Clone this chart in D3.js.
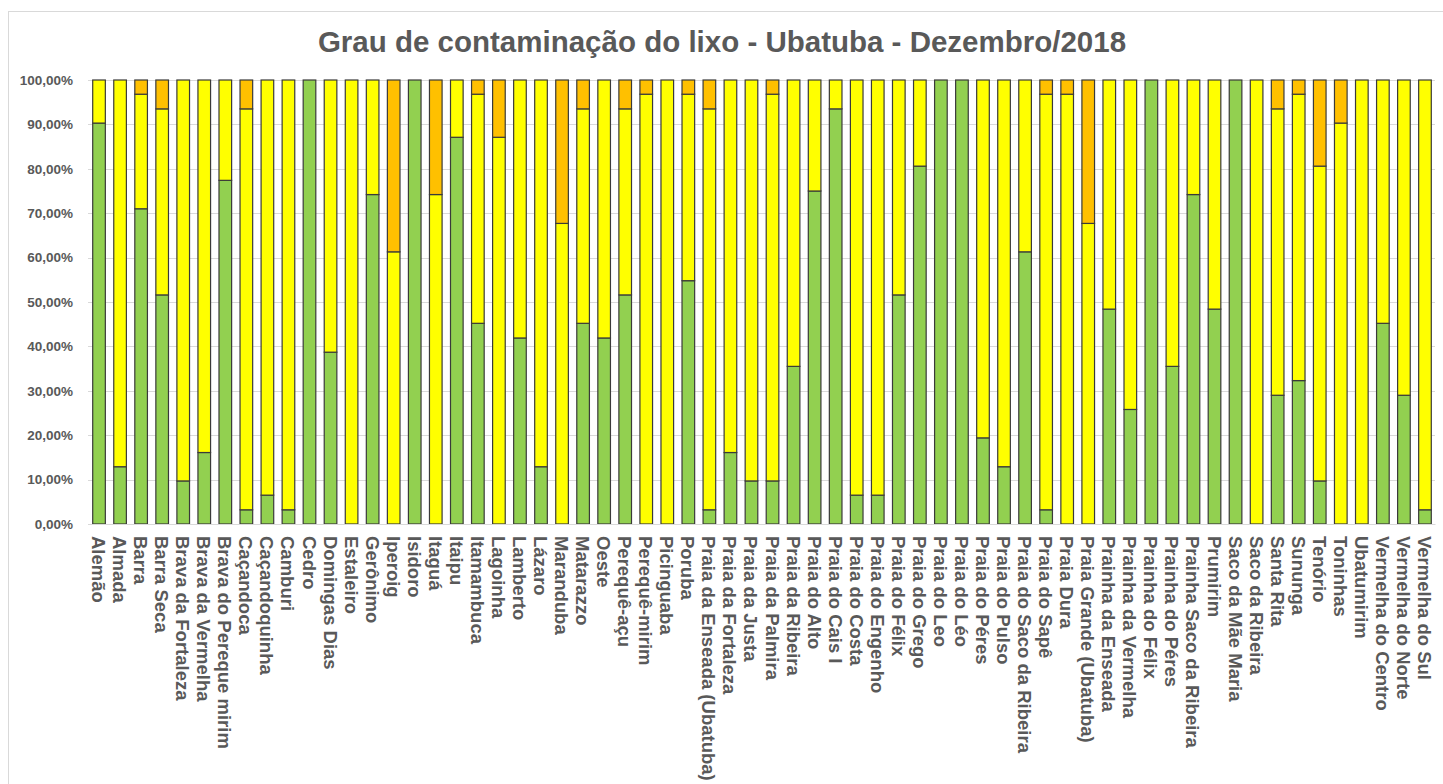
<!DOCTYPE html>
<html lang="pt-BR">
<head>
<meta charset="utf-8">
<title>Grau de contaminação do lixo - Ubatuba - Dezembro/2018</title>
<script src="https://cdn.jsdelivr.net/npm/d3@7"></script>
<style>
  html, body { margin: 0; padding: 0; background: #fff; }
  #grafico { width: 1443px; height: 784px; }
</style>
</head>
<body>
<div id="grafico"></div>
<script>
// praias (ordem do eixo X)
const praias = [
  "Alemão", "Almada", "Barra", "Barra Seca", "Brava da Fortaleza", "Brava da Vermelha",
  "Brava do Pereque mirim", "Caçandoca", "Caçandoquinha", "Camburi", "Cedro", "Domingas Dias",
  "Estaleiro", "Gerônimo", "Iperoig", "Isidoro", "Itaguá", "Itaipu", "Itamambuca", "Lagoinha",
  "Lamberto", "Lázaro", "Maranduba", "Matarazzo", "Oeste", "Perequê-açu", "Perequê-mirim",
  "Picinguaba", "Poruba", "Praia da Enseada (Ubatuba)", "Praia da Fortaleza", "Praia da Justa",
  "Praia da Palmira", "Praia da Ribeira", "Praia do Alto", "Praia do Cais I", "Praia do Costa",
  "Praia do Engenho", "Praia do Félix", "Praia do Grego", "Praia do Leo", "Praia do Léo",
  "Praia do Péres", "Praia do Pulso", "Praia do Saco da Ribeira", "Praia do Sapê", "Praia Dura",
  "Praia Grande (Ubatuba)", "Prainha da Enseada", "Prainha da Vermelha", "Prainha do Félix",
  "Prainha do Péres", "Prainha Saco da Ribeira", "Prumirim", "Saco da Mãe Maria",
  "Saco da Ribeira", "Santa Rita", "Sununga", "Tenório", "Toninhas", "Ubatumirim",
  "Vermelha do Centro", "Vermelha do Norte", "Vermelha do Sul"
];

// percentuais por faixa (verde embaixo, amarelo no meio, laranja em cima)
const verde = [
  90.3, 12.9, 71.0, 51.6, 9.7, 16.1, 77.4, 3.2, 6.5, 3.2, 100, 38.7,
  0, 74.2, 0, 100, 0, 87.1, 45.2, 0, 41.9, 12.9, 0, 45.2, 41.9, 51.6, 0,
  0, 54.8, 3.2, 16.1, 9.7, 9.7, 35.5, 75.0, 93.5, 6.5, 6.5, 51.6, 80.6,
  100, 100, 19.4, 12.9, 61.3, 3.2, 0, 0, 48.4, 25.8, 100, 35.5, 74.2,
  48.4, 100, 0, 29.0, 32.3, 9.7, 0, 0, 45.2, 29.0, 3.2
];
const amarelo = [
  9.7, 87.1, 25.8, 41.9, 90.3, 83.9, 22.6, 90.3, 93.5, 96.8, 0, 61.3,
  100, 25.8, 61.3, 0, 74.2, 12.9, 51.6, 87.1, 58.1, 87.1, 67.7, 48.3, 58.1, 41.9, 96.8,
  100, 42.0, 90.3, 83.9, 90.3, 87.1, 64.5, 25.0, 6.5, 93.5, 93.5, 48.4, 19.4,
  0, 0, 80.6, 87.1, 38.7, 93.6, 96.8, 67.7, 51.6, 74.2, 0, 64.5, 25.8,
  51.6, 0, 100, 64.5, 64.5, 70.9, 90.3, 100, 54.8, 71.0, 96.8
];
const laranja = [
  0, 0, 3.2, 6.5, 0, 0, 0, 6.5, 0, 0, 0, 0,
  0, 0, 38.7, 0, 25.8, 0, 3.2, 12.9, 0, 0, 32.3, 6.5, 0, 6.5, 3.2,
  0, 3.2, 6.5, 0, 0, 3.2, 0, 0, 0, 0, 0, 0, 0,
  0, 0, 0, 0, 0, 3.2, 3.2, 32.3, 0, 0, 0, 0, 0,
  0, 0, 0, 6.5, 3.2, 19.4, 9.7, 0, 0, 0, 0
];

const series = ["verde", "amarelo", "laranja"];
const cores = { verde: "#92D050", amarelo: "#FFFF00", laranja: "#FFC000" };
const ticksY = [0, 10, 20, 30, 40, 50, 60, 70, 80, 90, 100];

const tabela = praias.map((p, i) => ({
  praia: p,
  verde: verde[i],
  amarelo: amarelo[i],
  laranja: laranja[i],
}));

const width = 1443;
const height = 784;
const margem = { top: 80, right: 8, bottom: 260, left: 88 };

const svg = d3
  .select("#grafico")
  .append("svg")
  .attr("width", width)
  .attr("height", height)
  .style("font-family", "'Liberation Sans', Arial, sans-serif");

// moldura da área do gráfico
svg
  .append("rect")
  .attr("x", 8.5)
  .attr("y", 11.5)
  .attr("width", width + 10)
  .attr("height", height + 10)
  .attr("fill", "#fff")
  .attr("stroke", "#d9d9d9");

const x = d3
  .scaleBand()
  .domain(praias)
  .range([margem.left, width - margem.right])
  .paddingInner(0.4)
  .paddingOuter(0.2);

const y = d3
  .scaleLinear()
  .domain([0, 100])
  .range([height - margem.bottom, margem.top]);

// grade horizontal
svg
  .append("g")
  .selectAll("line")
  .data(ticksY)
  .join("line")
  .attr("x1", margem.left)
  .attr("x2", width - margem.right)
  .attr("y1", (d) => Math.round(y(d)) + 0.5)
  .attr("y2", (d) => Math.round(y(d)) + 0.5)
  .attr("stroke", "#d9d9d9");

// eixo Y
const eixoY = d3
  .axisLeft(y)
  .tickValues(ticksY)
  .tickSize(0)
  .tickPadding(15)
  .tickFormat((d) => d3.format(".2f")(d).replace(".", ",") + "%");

svg
  .append("g")
  .attr("transform", `translate(${margem.left},0)`)
  .call(eixoY)
  .call((g) => g.select(".domain").remove())
  .selectAll("text")
  .attr("fill", "#595959")
  .attr("font-size", 13.5)
  .attr("font-weight", "bold")
  .attr("font-family", "'Liberation Sans', Arial, sans-serif");

// barras empilhadas
const pilha = d3.stack().keys(series)(tabela);

svg
  .append("g")
  .selectAll("g")
  .data(pilha)
  .join("g")
  .attr("fill", (s) => cores[s.key])
  .selectAll("rect")
  .data((s) => s.filter((d) => d[1] - d[0] > 0))
  .join("rect")
  .attr("x", (d) => x(d.data.praia) + 0.5)
  .attr("y", (d) => y(d[1]))
  .attr("width", x.bandwidth())
  .attr("height", (d) => y(d[0]) - y(d[1]))
  .attr("stroke", "#3a3a3a")
  .attr("stroke-width", 1.2);

// eixo X
const eixoX = d3.axisBottom(x).tickSize(0).tickPadding(0);

svg
  .append("g")
  .attr("transform", `translate(0,${height - margem.bottom})`)
  .call(eixoX)
  .call((g) => g.select(".domain").attr("stroke", "#d9d9d9"))
  .selectAll("text")
  .attr("transform", "rotate(90)")
  .attr("x", 12)
  .attr("y", 0)
  .attr("dy", "0.35em")
  .attr("text-anchor", "start")
  .attr("fill", "#595959")
  .attr("font-size", 18.5)
  .attr("font-weight", "bold")
  .attr("font-family", "'Liberation Sans', Arial, sans-serif");

// título
svg
  .append("text")
  .attr("x", 722)
  .attr("y", 52)
  .attr("text-anchor", "middle")
  .attr("fill", "#595959")
  .attr("font-size", 29.5)
  .attr("font-weight", "bold")
  .text("Grau de contaminação do lixo - Ubatuba - Dezembro/2018");
</script>
</body>
</html>
